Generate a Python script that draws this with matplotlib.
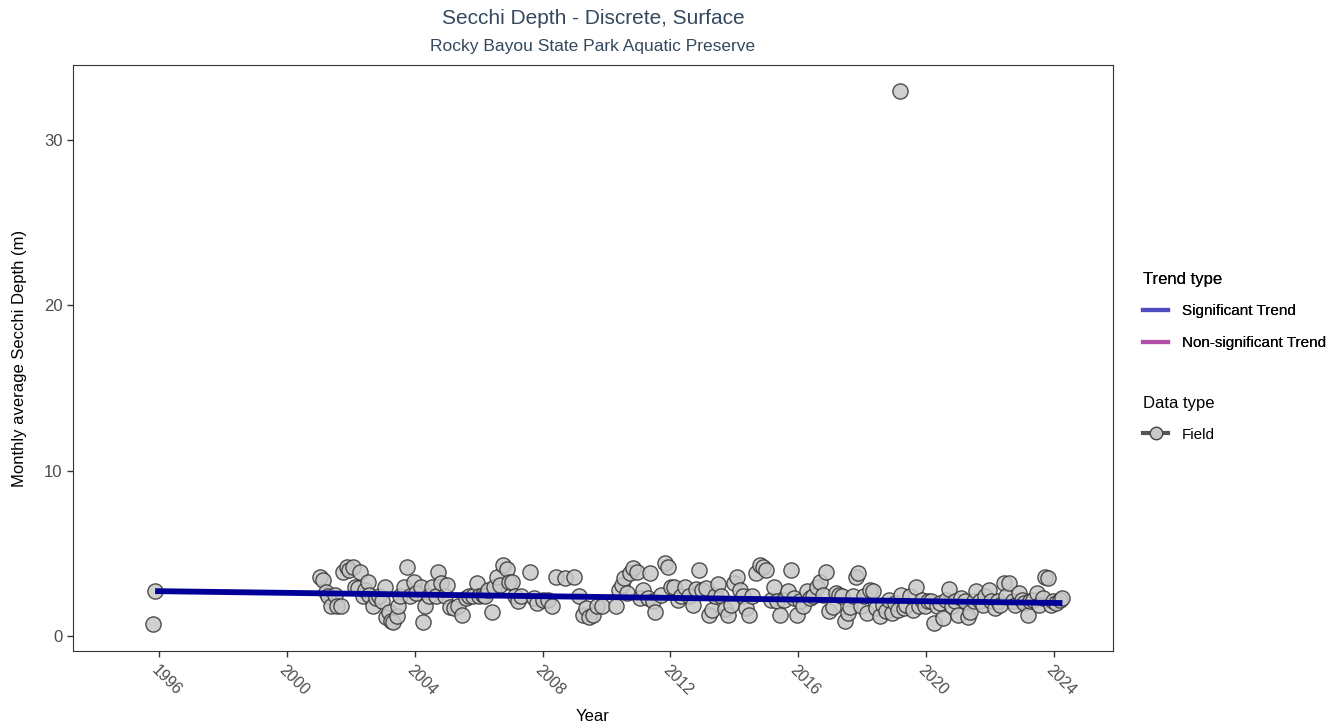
import matplotlib
matplotlib.use("Agg")
import matplotlib.pyplot as plt
from matplotlib.lines import Line2D
import numpy as np

plt.rcParams['font.family'] = ['Liberation Sans', 'DejaVu Sans']

# monthly average secchi depth, (decimal year, metres)
years = [1995.80, 1995.87,
         2001.02, 2001.12, 2001.21, 2001.27, 2001.37, 2001.49, 2001.55, 2001.68, 2001.74,
         2001.87, 2001.93, 2002.05, 2002.12, 2002.21, 2002.27, 2002.37, 2002.43, 2002.52,
         2002.58, 2002.68, 2002.77, 2002.87, 2002.96, 2003.05, 2003.11, 2003.18, 2003.24,
         2003.33, 2003.43, 2003.46, 2003.55, 2003.65, 2003.75, 2003.86, 2003.96, 2004.05,
         2004.18, 2004.27, 2004.33, 2004.43, 2004.55, 2004.65, 2004.74, 2004.83, 2004.93,
         2005.02, 2005.11, 2005.24, 2005.36, 2005.49, 2005.61, 2005.71, 2005.83, 2005.93,
         2006.02, 2006.12, 2006.21, 2006.30, 2006.40, 2006.49, 2006.58, 2006.68, 2006.77,
         2006.87, 2006.96, 2007.05, 2007.15, 2007.24, 2007.33, 2007.62, 2007.74, 2007.83,
         2008.02, 2008.18, 2008.30, 2008.43, 2008.71, 2008.99, 2009.14, 2009.27, 2009.36,
         2009.46, 2009.58, 2009.71, 2009.86, 2010.30, 2010.39, 2010.49, 2010.55, 2010.65,
         2010.74, 2010.83, 2010.96, 2011.05, 2011.15, 2011.30, 2011.36, 2011.46, 2011.52,
         2011.71, 2011.83, 2011.93, 2012.02, 2012.11, 2012.24, 2012.33, 2012.46, 2012.58,
         2012.71, 2012.80, 2012.90, 2013.00, 2013.11, 2013.21, 2013.30, 2013.40, 2013.49,
         2013.58, 2013.71, 2013.80, 2013.90, 2013.99, 2014.08, 2014.18, 2014.27, 2014.36,
         2014.46, 2014.55, 2014.68, 2014.80, 2014.90, 2014.99, 2015.15, 2015.24, 2015.33,
         2015.43, 2015.55, 2015.68, 2015.77, 2015.86, 2015.96, 2016.05, 2016.15, 2016.27,
         2016.36, 2016.46, 2016.58, 2016.68, 2016.77, 2016.86, 2016.96, 2017.08, 2017.18,
         2017.27, 2017.37, 2017.46, 2017.55, 2017.61, 2017.71, 2017.80, 2017.86, 2017.96,
         2018.05, 2018.15, 2018.24, 2018.33, 2018.43, 2018.55, 2018.65, 2018.74, 2018.83,
         2018.93, 2019.02, 2019.12, 2019.19, 2019.21, 2019.30, 2019.39, 2019.49, 2019.58,
         2019.68, 2019.77, 2019.86, 2019.96, 2020.05, 2020.15, 2020.24, 2020.33, 2020.43,
         2020.52, 2020.62, 2020.71, 2020.80, 2020.90, 2020.99, 2021.11, 2021.21, 2021.30,
         2021.39, 2021.49, 2021.58, 2021.68, 2021.77, 2021.86, 2021.96, 2022.05, 2022.15,
         2022.24, 2022.33, 2022.43, 2022.52, 2022.61, 2022.71, 2022.80, 2022.90, 2022.99,
         2023.08, 2023.18, 2023.27, 2023.36, 2023.46, 2023.55, 2023.65, 2023.74, 2023.83,
         2023.90, 2023.99, 2024.08, 2024.18, 2024.27]
depth = [0.73, 2.72,
         3.57, 3.40, 2.66, 2.40, 1.80, 2.50, 1.80, 1.80, 3.90,
         4.20, 4.00, 4.20, 3.00, 2.90, 3.90, 2.40, 2.80, 3.30,
         2.50, 1.80, 2.30, 2.40, 2.10, 3.00, 1.15, 1.45, 0.90,
         0.85, 1.20, 1.80, 2.40, 3.00, 4.20, 2.40, 3.30, 2.60,
         3.00, 0.85, 1.80, 2.40, 3.00, 2.40, 3.90, 3.20, 2.40,
         3.10, 1.75, 1.70, 1.80, 1.30, 2.30, 2.40, 2.40, 3.20,
         2.40, 2.50, 2.40, 2.80, 1.45, 3.00, 3.60, 3.10, 4.30,
         4.05, 3.30, 3.30, 2.40, 2.10, 2.40, 3.90, 2.30, 2.00,
         2.20, 2.20, 1.80, 3.60, 3.50, 3.60, 2.40, 1.30, 1.70,
         1.15, 1.30, 1.80, 1.80, 1.80, 2.80, 3.10, 3.50, 2.60,
         3.80, 4.10, 3.90, 2.30, 2.80, 2.30, 3.80, 2.10, 1.45,
         2.50, 4.40, 4.20, 3.00, 3.00, 2.20, 2.40, 3.00, 2.40,
         1.90, 2.85, 4.00, 2.80, 2.90, 1.30, 1.60, 2.40, 3.15,
         2.40, 1.65, 1.30, 1.90, 3.20, 3.60, 2.80, 2.40, 1.70,
         1.30, 2.40, 3.80, 4.30, 4.20, 4.00, 2.20, 3.00, 2.10,
         1.30, 2.20, 2.70, 4.00, 2.30, 1.30, 2.10, 1.80, 2.70,
         2.30, 2.40, 3.00, 3.30, 2.50, 3.90, 1.50, 1.75, 2.60,
         2.50, 2.40, 0.90, 1.40, 1.75, 2.40, 3.60, 3.80, 1.80,
         2.40, 1.40, 2.80, 2.70, 1.70, 1.20, 1.90, 1.50, 2.20,
         1.40, 2.00, 1.60, 32.97, 2.50, 1.70, 1.90, 2.40, 1.60,
         3.00, 1.80, 2.20, 1.80, 2.10, 2.10, 0.80, 1.80, 2.00,
         1.10, 2.20, 2.85, 1.80, 2.10, 1.30, 2.30, 2.10, 1.15,
         1.45, 2.10, 2.70, 2.10, 1.90, 2.40, 2.80, 2.10, 1.70,
         2.10, 1.90, 3.20, 2.40, 3.20, 2.10, 1.90, 2.60, 2.20,
         2.00, 1.30, 2.10, 2.20, 2.60, 1.90, 2.30, 3.60, 3.50,
         1.90, 2.10, 2.00, 2.20, 2.30]

# fitted seasonal Kendall trend (significant)
trend_years = [1995.87, 2024.27]
trend_depth = [2.72, 2.00]

tick_years = [1996, 2000, 2004, 2008, 2012, 2016, 2020, 2024]

fig = plt.figure(figsize=(13.4, 7.28), dpi=100)
ax = fig.add_axes([0.0545, 0.1058, 0.776, 0.805])

ax.scatter(years, depth, s=120, facecolor='#c8c8c8', edgecolor='#333333',
           linewidth=1.0, alpha=0.85, zorder=3)
ax.plot(trend_years, trend_depth, color='#000099', linewidth=4.2,
        solid_capstyle='butt', zorder=4)

ax.set_xlim(1993.3, 2025.85)
ax.set_ylim(-0.9, 34.55)
ax.set_xticks(tick_years)
ax.set_xticklabels([str(y) for y in tick_years], rotation=-45, ha='left',
                   va='top', rotation_mode='anchor')
ax.set_yticks([0, 10, 20, 30])
ax.tick_params(axis='both', labelsize=12, labelcolor='#4d4d4d',
               color='#333333', length=4, width=1)
ax.tick_params(axis='x', pad=4, labelsize=11.5)
for s in ax.spines.values():
    s.set_color('#333333')
    s.set_linewidth(0.8)

ax.set_xlabel('Year', fontsize=12, labelpad=8)
ax.set_ylabel('Monthly average Secchi Depth (m)', fontsize=12, labelpad=12)

fig.text(0.4425, 0.974, 'Secchi Depth - Discrete, Surface', ha='center',
         va='center', fontsize=15, color='#34495e')
fig.text(0.4425, 0.936, 'Rocky Bayou State Park Aquatic Preserve',
         ha='center', va='center', fontsize=12.5, color='#34495e')

trend_handles = [Line2D([], [], color='#4d4dbf', linewidth=3),
                 Line2D([], [], color='#b34da6', linewidth=3)]
leg1 = fig.legend(trend_handles, ['Significant Trend', 'Non-significant Trend'],
                  title='Trend type', loc='upper left',
                  bbox_to_anchor=(0.843, 0.645), frameon=False, fontsize=11,
                  title_fontsize=12, alignment='left', handlelength=1.6,
                  handletextpad=0.9, labelspacing=1.2)
data_handle = [Line2D([], [], color='#555555', linewidth=3, marker='o',
                      markersize=9, markerfacecolor='#c8c8c8',
                      markeredgecolor='#444444')]
leg2 = fig.legend(data_handle, ['Field'], title='Data type', loc='upper left',
                  bbox_to_anchor=(0.843, 0.475), frameon=False, fontsize=11,
                  title_fontsize=12, alignment='left', handlelength=1.6,
                  handletextpad=0.9, borderaxespad=0.5)
leg2._legend_box.sep = 12
leg1._legend_box.sep = 12
fig.add_artist(leg1)

fig.savefig('out.png', dpi=100)
